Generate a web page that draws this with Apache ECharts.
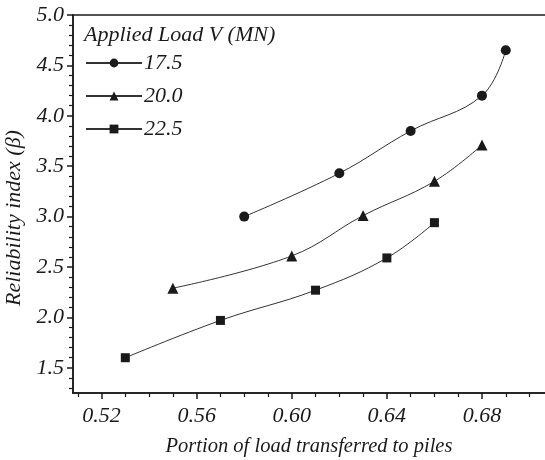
<!DOCTYPE html>
<html>
<head>
<meta charset="utf-8">
<title>Reliability index vs load portion</title>
<script src="https://cdn.jsdelivr.net/npm/echarts@6/dist/echarts.min.js"></script>
<style>
  html, body { margin: 0; padding: 0; background: #fff; }
  #chart-container { width: 545px; height: 460px; }
</style>
</head>
<body>
<div id="chart-container"></div>
<script>
// ************************************************* //
// * +++++++++++ Data ++++++++++++ * //
// ************************************************* //

var loadNames = ['17.5', '20.0', '22.5'];

var portion175 = [0.58, 0.62, 0.65, 0.68, 0.69];
var beta175    = [3.00, 3.43, 3.85, 4.20, 4.65];

var portion200 = [0.55, 0.60, 0.63, 0.66, 0.68];
var beta200    = [2.29, 2.61, 3.01, 3.35, 3.71];

var portion225 = [0.53, 0.57, 0.61, 0.64, 0.66];
var beta225    = [1.60, 1.97, 2.27, 2.59, 2.94];

var xTickLabels = [0.52, 0.56, 0.60, 0.64, 0.68];
var xMinorTicks = [0.51, 0.53, 0.54, 0.55, 0.57, 0.58, 0.59, 0.61, 0.62, 0.63, 0.65, 0.66, 0.67, 0.69, 0.70];
var yTickLabels = [1.5, 2.0, 2.5, 3.0, 3.5, 4.0, 4.5, 5.0];
var yMinorTicks = [1.3, 1.4, 1.6, 1.7, 1.8, 1.9, 2.1, 2.2, 2.3, 2.4, 2.6, 2.7, 2.8, 2.9,
                   3.1, 3.2, 3.3, 3.4, 3.6, 3.7, 3.8, 3.9, 4.1, 4.2, 4.3, 4.4, 4.6, 4.7, 4.8, 4.9];

function pairs(xs, ys) {
  return xs.map(function (x, i) { return [x, ys[i]]; });
}

// ************************************************* //
// * +++++++++++ Chart ++++++++++++ * //
// ************************************************* //

var dom = document.getElementById('chart-container');
var myChart = echarts.init(dom, null, { renderer: 'canvas' });

var ink = '#1a1a1a';
var serif = '"Liberation Serif", "DejaVu Serif", serif';
// right edge of the picture cuts the plot a little past 0.70
var xMin = 0.508, xMax = 0.7065;
var yMin = 1.25, yMax = 5.0;

function seriesOf(name, data, symbol, size) {
  return {
    name: name,
    type: 'line',
    data: data,
    smooth: 0.4,
    symbol: symbol,
    symbolSize: size,
    showSymbol: true,
    lineStyle: { color: '#333', width: 1 },
    itemStyle: { color: ink },
    xAxisIndex: 0,
    yAxisIndex: 0
  };
}

// axis that only carries the small ticks
function minorAxis(min, max, pos, values) {
  return {
    type: 'value',
    min: min,
    max: max,
    position: pos,
    axisLine: { show: true, lineStyle: { color: ink, width: 1.5 } },
    axisTick: { show: true, inside: false, length: 4, customValues: values, lineStyle: { color: ink, width: 1.2 } },
    axisLabel: { show: false, customValues: values },
    splitLine: { show: false }
  };
}

var option = {
  animation: false,
  backgroundColor: '#fff',
  title: {
    text: 'Applied Load V (MN)',
    left: 79,
    top: 19,
    textStyle: { fontFamily: serif, fontStyle: 'italic', fontWeight: 'normal', fontSize: 22, color: ink }
  },
  legend: {
    orient: 'vertical',
    left: 80,
    top: 47,
    itemWidth: 56,
    itemHeight: 11,
    itemGap: 11,
    textStyle: { fontFamily: serif, fontStyle: 'italic', fontSize: 22, color: ink, padding: [0, 0, 0, -3] },
    data: loadNames
  },
  grid: {
    left: 73,
    right: 0,
    top: 15,
    bottom: 67,
    outerBoundsMode: 'none'
  },
  xAxis: [
    {
      type: 'value',
      min: xMin,
      max: xMax,
      name: 'Portion of load transferred to piles',
      nameLocation: 'middle',
      nameGap: 44,
      nameTextStyle: { fontFamily: serif, fontStyle: 'italic', fontSize: 20.5, color: ink },
      axisLine: { lineStyle: { color: ink, width: 1.5 } },
      axisTick: { inside: false, length: 6, customValues: xTickLabels, lineStyle: { color: ink, width: 1.5 } },
      axisLabel: {
        customValues: xTickLabels,
        margin: 12,
        fontFamily: serif, fontStyle: 'italic', fontSize: 22, color: ink,
        formatter: function (v) { return v.toFixed(2); }
      },
      splitLine: { show: false }
    },
    minorAxis(xMin, xMax, 'bottom', xMinorTicks),
    {
      // top frame line only
      type: 'value',
      min: xMin,
      max: xMax,
      position: 'top',
      axisLine: { show: true, lineStyle: { color: ink, width: 1.5 } },
      axisTick: { show: false },
      axisLabel: { show: false },
      splitLine: { show: false }
    }
  ],
  yAxis: [
    {
      type: 'value',
      min: yMin,
      max: yMax,
      name: 'Reliability index (\u03b2)',
      nameLocation: 'middle',
      nameGap: 45,
      nameTextStyle: { fontFamily: serif, fontStyle: 'italic', fontSize: 22, color: ink, padding: [0, 28, 0, 0] },
      axisLine: { show: true, lineStyle: { color: ink, width: 1.5 } },
      axisTick: { show: true, inside: false, length: 6, customValues: yTickLabels, lineStyle: { color: ink, width: 1.5 } },
      axisLabel: {
        customValues: yTickLabels,
        margin: 9,
        fontFamily: serif, fontStyle: 'italic', fontSize: 22, color: ink,
        formatter: function (v) { return v.toFixed(1); }
      },
      splitLine: { show: false }
    },
    minorAxis(yMin, yMax, 'left', yMinorTicks)
  ],
  series: [
    seriesOf(loadNames[0], pairs(portion175, beta175), 'circle', 10),
    seriesOf(loadNames[1], pairs(portion200, beta200), 'triangle', 11),
    seriesOf(loadNames[2], pairs(portion225, beta225), 'rect', 9)
  ]
};

myChart.setOption(option);
window.addEventListener('resize', myChart.resize);
</script>
</body>
</html>
